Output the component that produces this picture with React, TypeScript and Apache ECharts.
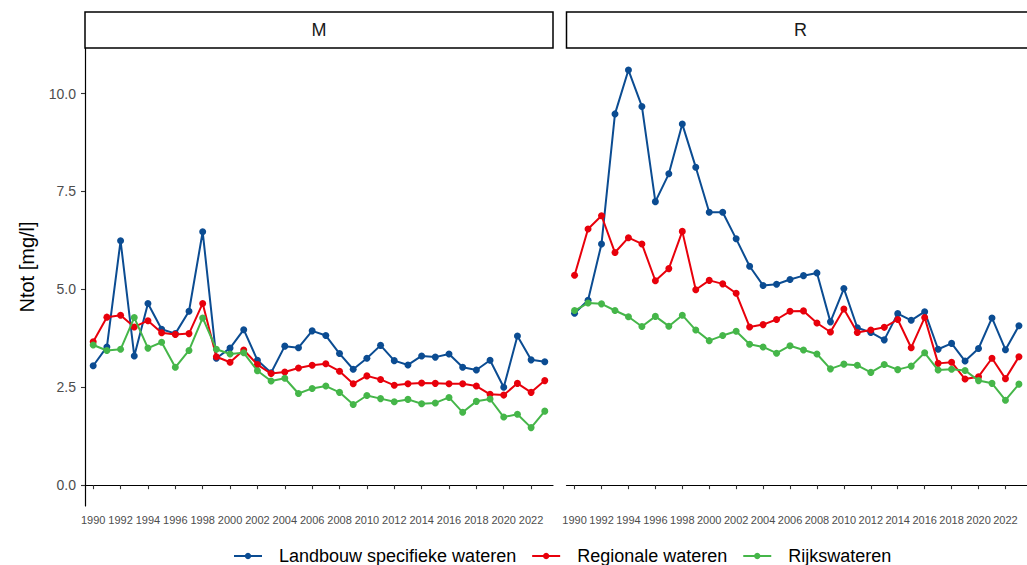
import React, { useEffect, useRef } from "react";
import * as echarts from "echarts";

const years = [
  1990, 1991, 1992, 1993, 1994, 1995, 1996, 1997, 1998, 1999, 2000, 2001, 2002,
  2003, 2004, 2005, 2006, 2007, 2008, 2009, 2010, 2011, 2012, 2013, 2014, 2015,
  2016, 2017, 2018, 2019, 2020, 2021, 2022, 2023,
];
const xTickYears = [
  1990, 1992, 1994, 1996, 1998, 2000, 2002, 2004, 2006, 2008, 2010, 2012, 2014,
  2016, 2018, 2020, 2022,
];
const yTicks = [0, 2.5, 5, 7.5, 10];

const seriesNames = [
  "Landbouw specifieke wateren",
  "Regionale wateren",
  "Rijkswateren",
];
const seriesColors = ["#0B4C92", "#E8000B", "#45B649"];
const panels = ["M", "R"];

// Panel M
const mLandbouw = [
  3.05, 3.53, 6.24, 3.3, 4.64, 3.98, 3.87, 4.44, 6.47, 3.24, 3.5, 3.97, 3.19,
  2.87, 3.55, 3.51, 3.94, 3.82, 3.36, 2.96, 3.24, 3.57, 3.18, 3.07, 3.3, 3.27,
  3.35, 3.01, 2.94, 3.19, 2.5, 3.81, 3.2, 3.15,
];
const mRegionale = [
  3.66, 4.29, 4.34, 4.04, 4.2, 3.89, 3.85, 3.87, 4.64, 3.28, 3.14, 3.45, 3.08,
  2.85, 2.89, 2.99, 3.06, 3.1, 2.91, 2.59, 2.79, 2.7, 2.55, 2.59, 2.61, 2.6,
  2.59, 2.59, 2.53, 2.32, 2.3, 2.6, 2.37, 2.67,
];
const mRijks = [
  3.58, 3.44, 3.47, 4.28, 3.5, 3.65, 3.01, 3.44, 4.27, 3.47, 3.35, 3.38, 2.92,
  2.66, 2.73, 2.34, 2.47, 2.53, 2.37, 2.06, 2.29, 2.21, 2.13, 2.19, 2.08, 2.1,
  2.24, 1.86, 2.14, 2.2, 1.74, 1.81, 1.47, 1.89,
];

// Panel R
const rLandbouw = [
  4.39, 4.72, 6.16, 9.48, 10.6, 9.67, 7.24, 7.95, 9.22, 8.12, 6.97, 6.97, 6.29,
  5.59, 5.1, 5.13, 5.25, 5.35, 5.42, 4.17, 5.02, 4.02, 3.9, 3.71, 4.38, 4.21,
  4.43, 3.47, 3.62, 3.17, 3.49, 4.27, 3.46, 4.07,
];
const rRegionale = [
  5.36, 6.54, 6.88, 5.94, 6.32, 6.16, 5.22, 5.53, 6.48, 4.99, 5.23, 5.14, 4.9,
  4.04, 4.1, 4.23, 4.44, 4.45, 4.14, 3.91, 4.5, 3.9, 3.96, 4.03, 4.23, 3.51,
  4.28, 3.11, 3.14, 2.71, 2.77, 3.24, 2.72, 3.28,
];
const rRijks = [
  4.46, 4.65, 4.63, 4.46, 4.3, 4.05, 4.31, 4.06, 4.34, 3.96, 3.69, 3.82, 3.93,
  3.6, 3.53, 3.37, 3.56, 3.45, 3.35, 2.97, 3.09, 3.06, 2.88, 3.08, 2.95, 3.04,
  3.38, 2.94, 2.96, 2.93, 2.67, 2.6, 2.17, 2.58,
];

const panelData = [
  [mLandbouw, mRegionale, mRijks],
  [rLandbouw, rRegionale, rRijks],
];

const FONT = "'Liberation Sans', Arial, Helvetica, sans-serif";
const Y_MIN = -0.532;
const Y_MAX = 11.163;
const X_MIN = 1989.4;
const X_MAX = 2023.6;

const gridLefts = [85, 566.5];
const GRID_TOP = 48;
const GRID_W = 468;
const GRID_H = 458;

export default function App() {
  const ref = useRef<HTMLDivElement>(null);

  useEffect(() => {
    if (!ref.current) return;
    const chart = echarts.init(ref.current, null, { renderer: "svg" });

    const grids = gridLefts.map((left) => ({
      left,
      top: GRID_TOP,
      width: GRID_W,
      height: GRID_H,
      containLabel: false,
    }));

    const xAxes = gridLefts.map((_, i) => ({
      type: "value",
      gridIndex: i,
      min: X_MIN,
      max: X_MAX,
      splitLine: { show: false },
      axisLine: { show: true, lineStyle: { color: "#000", width: 1.2 } },
      axisTick: {
        show: true,
        length: 4,
        lineStyle: { color: "#333", width: 1.1 },
        customValues: xTickYears,
      },
      axisLabel: {
        show: true,
        customValues: xTickYears,
        color: "#4d4d4d",
        fontSize: 11,
        fontFamily: FONT,
        margin: 8,
        formatter: (v: number) => String(Math.round(v)),
      },
    }));

    const yAxes = gridLefts.map((_, i) => ({
      type: "value",
      gridIndex: i,
      min: Y_MIN,
      max: Y_MAX,
      splitLine: { show: false },
      axisLine: {
        show: i === 0,
        onZero: false,
        lineStyle: { color: "#000", width: 1.2 },
      },
      axisTick: {
        show: i === 0,
        length: 4,
        lineStyle: { color: "#333", width: 1.1 },
        customValues: yTicks,
      },
      axisLabel: {
        show: i === 0,
        customValues: yTicks,
        color: "#4d4d4d",
        fontSize: 14,
        fontFamily: FONT,
        margin: 9,
        formatter: (v: number) => v.toFixed(1),
      },
    }));

    const series: any[] = [];
    panelData.forEach((group, pi) => {
      group.forEach((vals, si) => {
        series.push({
          type: "line",
          name: seriesNames[si],
          xAxisIndex: pi,
          yAxisIndex: pi,
          data: vals.map((v, k) => [years[k], v]),
          symbol: "circle",
          symbolSize: 7,
          showSymbol: true,
          lineStyle: { color: seriesColors[si], width: 2 },
          itemStyle: { color: seriesColors[si] },
          z: 2 + si,
        });
      });
    });

    const graphics: any[] = [];
    panels.forEach((p, i) => {
      graphics.push({
        type: "rect",
        shape: { x: gridLefts[i], y: 12, width: GRID_W, height: 36 },
        style: { fill: "#fff", stroke: "#000", lineWidth: 1.5 },
        z: 10,
      });
      graphics.push({
        type: "text",
        x: gridLefts[i] + GRID_W / 2,
        y: 30,
        style: {
          text: p,
          fill: "#1a1a1a",
          fontSize: 18,
          fontFamily: FONT,
          align: "center",
          verticalAlign: "middle",
        },
        z: 11,
      });
    });
    graphics.push({
      type: "text",
      x: 27,
      y: 267,
      rotation: Math.PI / 2,
      style: {
        text: "Ntot [mg/l]",
        fill: "#000",
        fontSize: 20,
        fontFamily: FONT,
        align: "center",
        verticalAlign: "middle",
      },
    });

    chart.setOption({
      animation: false,
      backgroundColor: "#fff",
      grid: grids,
      xAxis: xAxes,
      yAxis: yAxes,
      series,
      legend: {
        data: seriesNames,
        left: 228,
        top: 542,
        itemWidth: 28,
        itemHeight: 8,
        itemGap: 15,
        textStyle: {
          color: "#000",
          fontSize: 18,
          fontFamily: FONT,
          padding: [0, 0, 0, 12],
        },
      },
      graphic: graphics,
    });

    return () => chart.dispose();
  }, []);

  return (
    <div
      ref={ref}
      style={{
        position: "fixed",
        left: 0,
        top: 0,
        width: 1027,
        height: 565,
        overflow: "hidden",
      }}
    />
  );
}
